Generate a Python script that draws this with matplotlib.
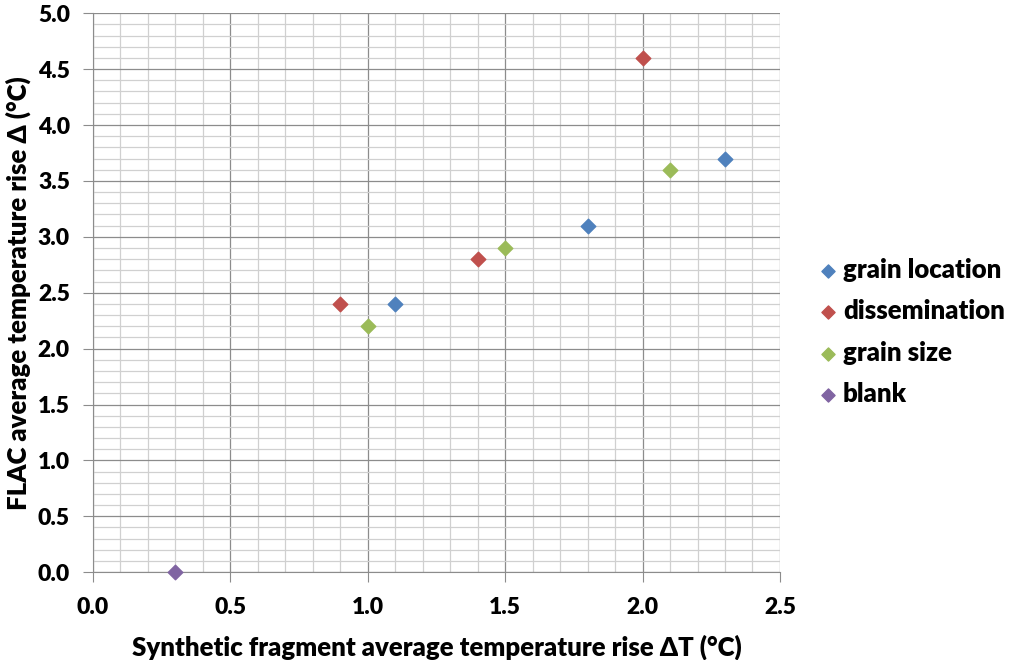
import matplotlib
matplotlib.use("Agg")
import matplotlib.pyplot as plt
from matplotlib.ticker import MultipleLocator

plt.rcParams['font.family'] = ['Lato', 'DejaVu Sans']
plt.rcParams['font.weight'] = 'bold'

# data
loc_x = [1.1, 1.8, 2.3]
loc_y = [2.4, 3.1, 3.7]
dis_x = [0.9, 1.4, 2.0]
dis_y = [2.4, 2.8, 4.6]
size_x = [1.0, 1.5, 2.1]
size_y = [2.2, 2.9, 3.6]
blank_x = [0.3]
blank_y = [0.0]

fig = plt.figure(figsize=(10.09, 6.6), dpi=100)
ax = fig.add_axes([0.092, 0.133, 0.681, 0.847])

ax.set_xlim(0, 2.5)
ax.set_ylim(0, 5)
ax.xaxis.set_major_locator(MultipleLocator(0.5))
ax.yaxis.set_major_locator(MultipleLocator(0.5))
ax.xaxis.set_minor_locator(MultipleLocator(0.1))
ax.yaxis.set_minor_locator(MultipleLocator(0.1))
ax.grid(which='minor', color='#d0d0d0', lw=0.9)
ax.grid(which='major', color='#8c8c8c', lw=0.9)
ax.set_axisbelow(True)
ax.tick_params(which='minor', length=0)
ax.tick_params(which='major', length=7.5, color='#8c8c8c', labelsize=16.5)
ax.tick_params(axis='x', pad=10)
ax.tick_params(axis='y', pad=9)
for s in ['top', 'right']:
    ax.spines[s].set_visible(False)
for s in ['left', 'bottom']:
    ax.spines[s].set_color('#8c8c8c')
ax.xaxis.set_major_formatter(plt.FuncFormatter(lambda v, p: f"{v:.1f}"))
ax.yaxis.set_major_formatter(plt.FuncFormatter(lambda v, p: f"{v:.1f}"))
for lab in ax.get_xticklabels() + ax.get_yticklabels():
    lab.set_fontweight('heavy')

ms = 55
ax.scatter(loc_x, loc_y, marker='D', s=ms, color='#4F81BD', label='grain location', zorder=3, clip_on=False)
ax.scatter(dis_x, dis_y, marker='D', s=ms, color='#C0504D', label='dissemination', zorder=3, clip_on=False)
ax.scatter(size_x, size_y, marker='D', s=ms, color='#9BBB59', label='grain size', zorder=3, clip_on=False)
ax.scatter(blank_x, blank_y, marker='D', s=ms, color='#8064A2', label='blank', zorder=3, clip_on=False)

ax.set_xlabel('Synthetic fragment average temperature rise \u0394T (°C)', fontsize=18.5, fontweight='heavy', labelpad=12)
ax.set_ylabel('FLAC average temperature rise \u0394 (°C)', fontsize=18.5, fontweight='heavy', labelpad=5)

leg = ax.legend(loc='center left', bbox_to_anchor=(1.058, 0.43), frameon=False, fontsize=18.5,
                borderpad=0, borderaxespad=0, handlelength=0.6, handletextpad=0.3,
                labelspacing=0.68, markerscale=0.9)
for t in leg.get_texts():
    t.set_fontweight('heavy')

fig.savefig('out.png', dpi=100)
